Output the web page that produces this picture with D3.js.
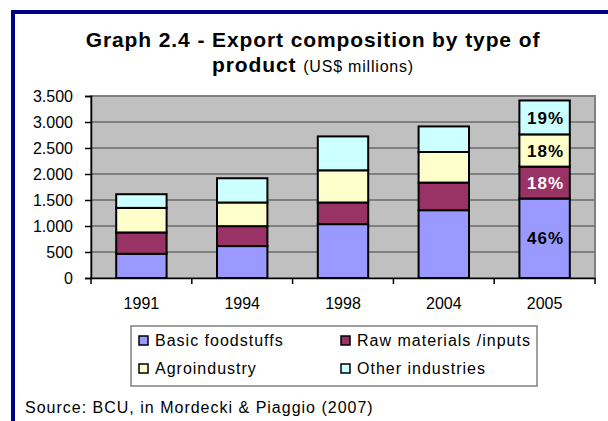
<!DOCTYPE html>
<html>
<head>
<meta charset="utf-8">
<script src="https://cdn.jsdelivr.net/npm/d3@7"></script>
<style>
  body { margin: 0; background: #fff; }
  svg { display: block; font-family: "Liberation Sans", Arial, sans-serif; }
</style>
</head>
<body>
<svg id="chart" width="608" height="421"></svg>
<script>
const years = ["1991", "1994", "1998", "2004", "2005"]
const seriesNames = ["Basic foodstuffs", "Raw materials /inputs", "Agroindustry", "Other industries"]
const basicFood = [466, 614, 1036, 1304, 1528]
const rawMaterials = [410, 383, 416, 531, 614]
const agroIndustry = [472, 455, 619, 588, 620]
const otherIndustries = [263, 466, 652, 492, 652]
const yTicks = [0, 500, 1000, 1500, 2000, 2500, 3000, 3500]
const shareLabels2005 = ["46%", "18%", "18%", "19%"]

const colors = ["#9999FF", "#993366", "#FFFFCC", "#CCFFFF"]
const keys = ["basic", "raw", "agro", "other"]
const font = "'Liberation Sans', Arial, sans-serif"

const rows = years.map((y, i) => ({
    year: y,
    basic: basicFood[i],
    raw: rawMaterials[i],
    agro: agroIndustry[i],
    other: otherIndustries[i]
}))

const svg = d3.select("#chart")

// outer frame (runs off the picture on the right and bottom)
svg.append("rect")
    .attr("x", 13).attr("y", 12)
    .attr("width", 640).attr("height", 440)
    .attr("fill", "#fff")
    .attr("stroke", "#000080")
    .attr("stroke-width", 4)

// title
const title = svg.append("text")
    .attr("text-anchor", "middle")
    .attr("fill", "#000")
title.append("tspan")
    .attr("x", 313).attr("y", 47)
    .attr("font-size", 21).attr("font-weight", "bold")
    .attr("letter-spacing", 0.9)
    .text("Graph 2.4 - Export composition by type of")
title.append("tspan")
    .attr("x", 313).attr("y", 72)
    .attr("font-size", 21).attr("font-weight", "bold")
    .attr("letter-spacing", 0.9)
    .text("product ")
    .append("tspan")
    .attr("font-size", 16).attr("font-weight", "normal")
    .attr("letter-spacing", 0.8)
    .text("(US$ millions)")

const margin = { top: 96, left: 91, right: 595, bottom: 278 }

const x = d3.scaleBand()
    .domain(years)
    .range([margin.left, margin.right])
    .paddingInner(0.5)
    .paddingOuter(0.25)

const y = d3.scaleLinear()
    .domain([0, 3500])
    .range([margin.bottom, margin.top])

// plot background
svg.append("rect")
    .attr("x", margin.left).attr("y", margin.top)
    .attr("width", margin.right - margin.left)
    .attr("height", margin.bottom - margin.top)
    .attr("fill", "#C0C0C0")
    .attr("stroke", "#808080")
    .attr("stroke-width", 2)

// gridlines
svg.append("g")
    .selectAll("line")
    .data(yTicks.filter(d => d > 0 && d < 3500))
    .enter()
    .append("line")
    .attr("x1", margin.left).attr("x2", margin.right)
    .attr("y1", d => y(d)).attr("y2", d => y(d))
    .attr("stroke", "#6a6a6a")
    .attr("stroke-width", 1.5)

// stacked bars
const stacked = d3.stack().keys(keys)(rows)

const layers = svg.append("g")
    .selectAll("g")
    .data(stacked)
    .enter()
    .append("g")
    .attr("fill", (d, i) => colors[i])

layers.selectAll("rect")
    .data(d => d)
    .enter()
    .append("rect")
    .attr("x", d => x(d.data.year))
    .attr("y", d => y(d[1]))
    .attr("width", x.bandwidth())
    .attr("height", d => y(d[0]) - y(d[1]))
    .attr("stroke", "#000")
    .attr("stroke-width", 2)

// share labels on the 2005 bar
const last = years.length - 1
svg.append("g")
    .selectAll("text")
    .data(stacked)
    .enter()
    .append("text")
    .attr("x", x(years[last]) + x.bandwidth() / 2 + 1)
    .attr("y", d => y((d[last][0] + d[last][1]) / 2))
    .attr("dy", "0.36em")
    .attr("text-anchor", "middle")
    .attr("font-size", 17)
    .attr("font-weight", "bold")
    .attr("letter-spacing", 1)
    .attr("fill", (d, i) => i === 1 ? "#fff" : "#000")
    .text((d, i) => shareLabels2005[i])

// y axis
const yAxis = svg.append("g")
    .attr("transform", `translate(${margin.left},0)`)
    .call(d3.axisLeft(y).tickValues(yTicks).tickSize(6).tickPadding(12))
yAxis.select(".domain").attr("stroke", "#000").attr("stroke-width", 1.5)
yAxis.selectAll(".tick line").attr("stroke", "#000").attr("stroke-width", 1.5)
yAxis.selectAll("text")
    .text(d => d3.format(",")(d).replace(",", "."))
    .attr("font-size", 16)
    .attr("font-family", font)
    .attr("fill", "#000")

// x axis
const xAxis = svg.append("g")
    .attr("transform", `translate(0,${margin.bottom})`)
    .call(d3.axisBottom(x).tickSize(0).tickPadding(20))
xAxis.select(".domain").attr("stroke", "#000").attr("stroke-width", 1.5)
xAxis.selectAll("text")
    .attr("font-size", 16)
    .attr("font-family", font)
    .attr("fill", "#000")

const step = x.step()
xAxis.selectAll(".boundary")
    .data(d3.range(years.length + 1))
    .enter()
    .append("line")
    .attr("x1", i => margin.left + i * step)
    .attr("x2", i => margin.left + i * step)
    .attr("y1", 0).attr("y2", 6)
    .attr("stroke", "#000")
    .attr("stroke-width", 1.5)

// legend
const legend = svg.append("g")
legend.append("rect")
    .attr("x", 131).attr("y", 326)
    .attr("width", 406).attr("height", 60)
    .attr("fill", "#fff")
    .attr("stroke", "#808080")
    .attr("stroke-width", 1.5)

const legendItems = legend.selectAll(".item")
    .data(seriesNames)
    .enter()
    .append("g")
    .attr("transform", (d, i) => `translate(${i % 2 === 0 ? 139 : 341},${i < 2 ? 336 : 364})`)

legendItems.append("rect")
    .attr("width", 9).attr("height", 9)
    .attr("fill", (d, i) => colors[i])
    .attr("stroke", "#000")
    .attr("stroke-width", 1.5)

legendItems.append("text")
    .attr("x", 16).attr("y", 10)
    .attr("font-size", 16)
    .attr("letter-spacing", 1)
    .attr("fill", "#000")
    .text(d => d)

// source
svg.append("text")
    .attr("x", 25).attr("y", 413)
    .attr("font-size", 16)
    .attr("letter-spacing", 1)
    .attr("fill", "#000")
    .text("Source: BCU, in Mordecki & Piaggio (2007)")
</script>
</body>
</html>
